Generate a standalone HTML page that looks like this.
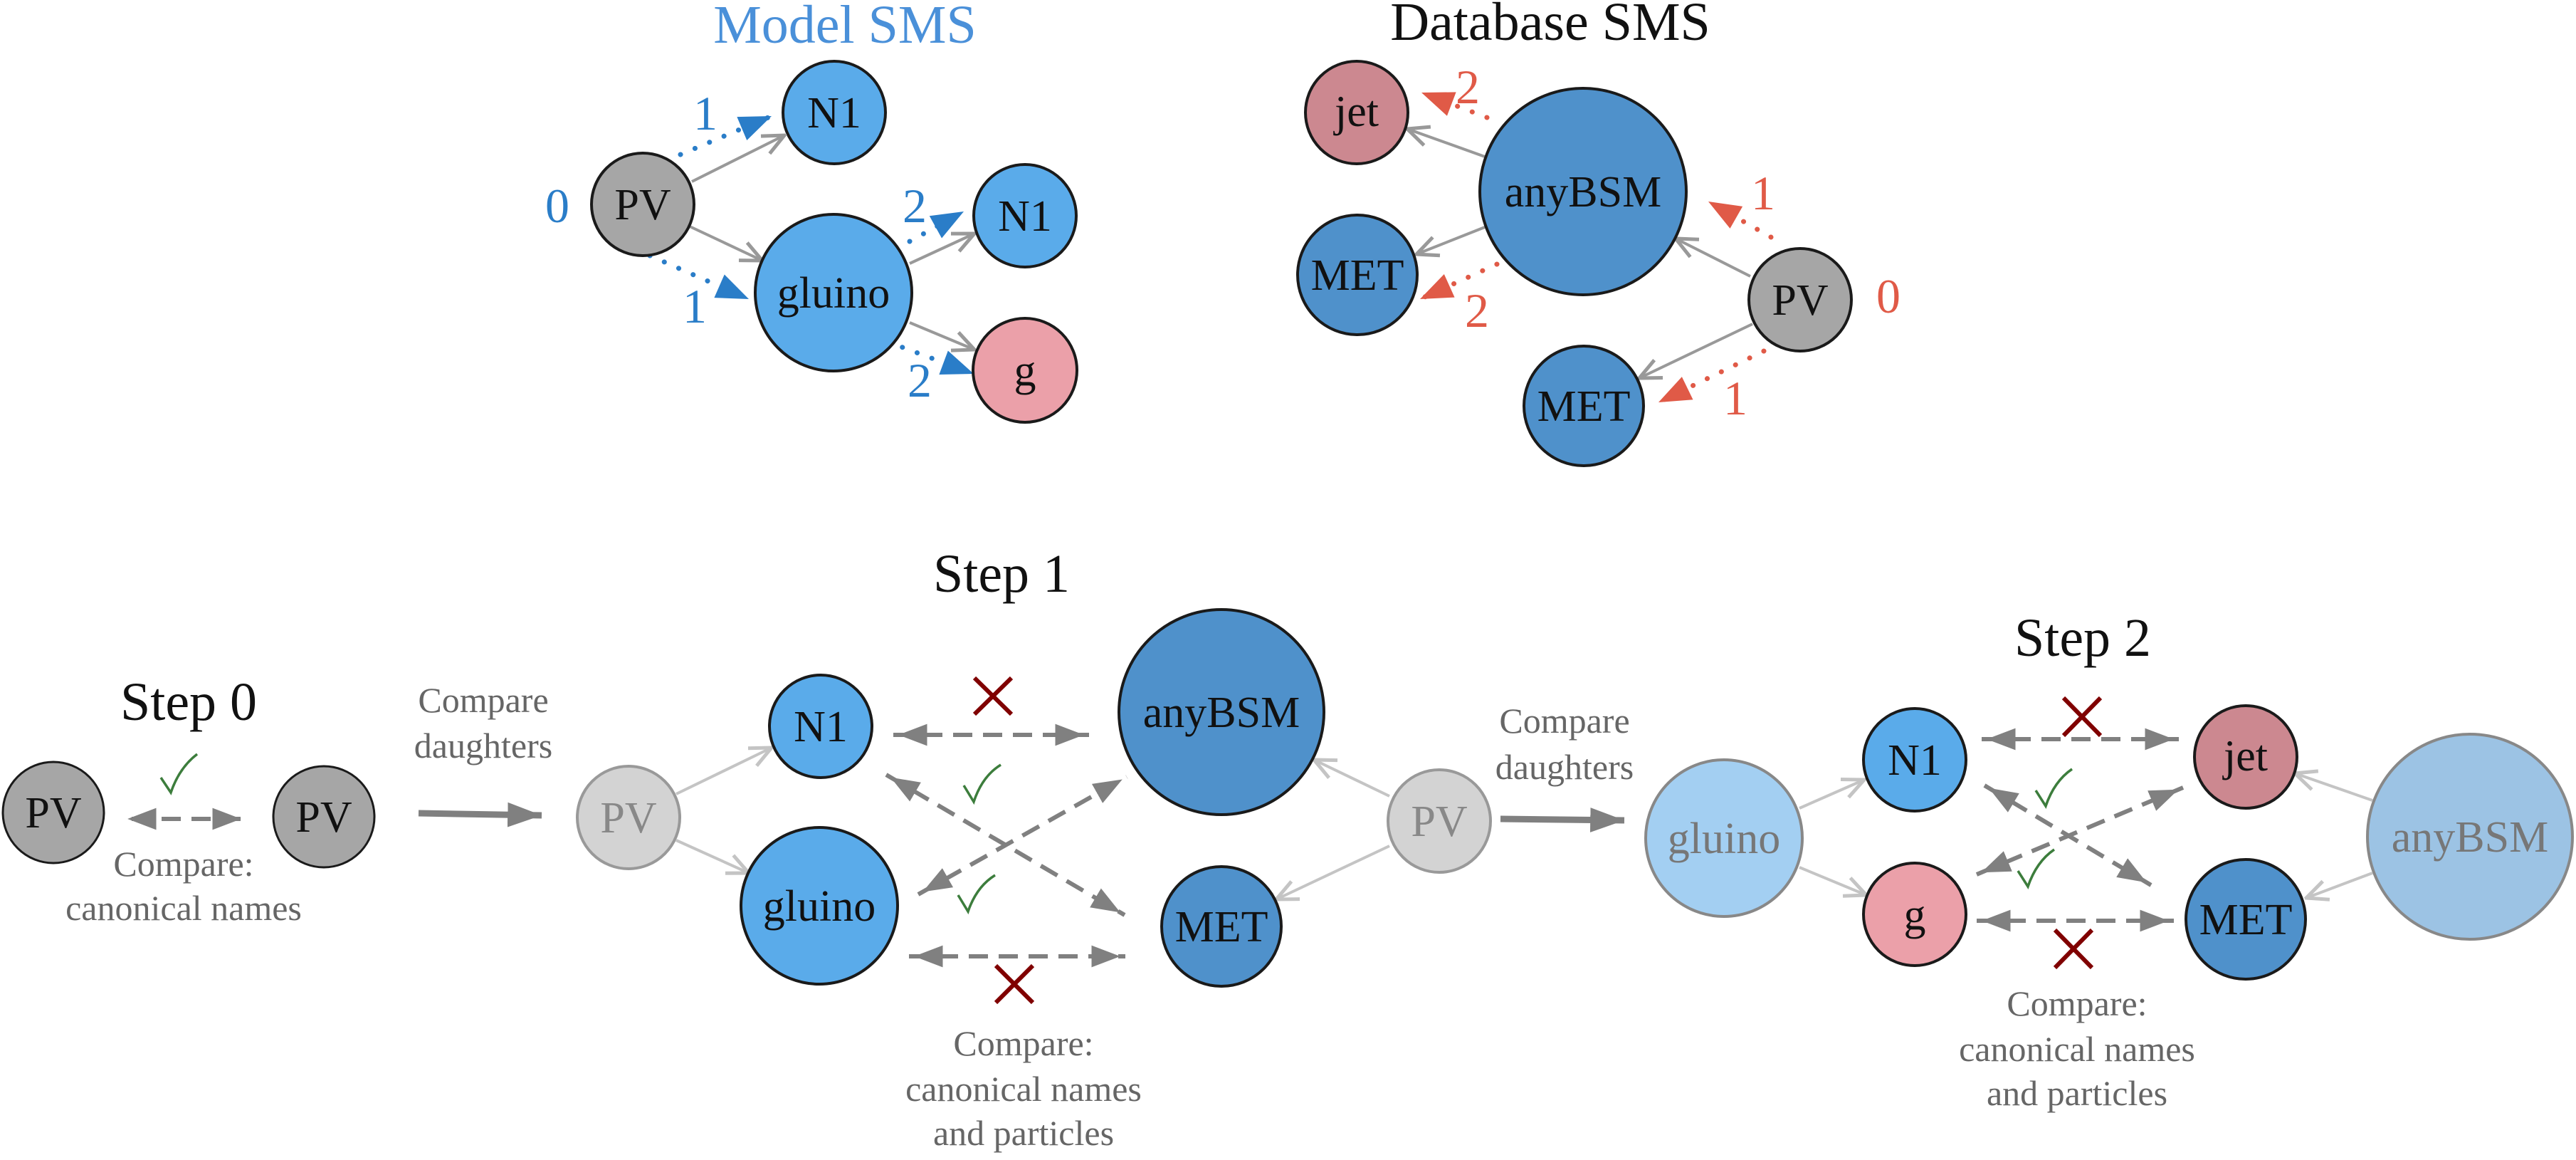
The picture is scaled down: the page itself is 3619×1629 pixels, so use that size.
<!DOCTYPE html>
<html><head><meta charset="utf-8"><style>
html,body{margin:0;padding:0;background:#fff;}
svg{display:block;}
svg text{font-family:"Liberation Serif","DejaVu Serif",serif !important;}
</style></head><body>
<svg width="3619" height="1629" viewBox="0 0 3619 1629" xmlns="http://www.w3.org/2000/svg" font-family="'Liberation Serif', 'DejaVu Serif', serif">
<defs>
<marker id="chev" markerUnits="userSpaceOnUse" markerWidth="40" markerHeight="40" viewBox="-30 -15 32 30" refX="0" refY="0" orient="auto">
<path d="M-24,-11 L0,0 L-24,11" fill="none" stroke="#999" stroke-width="4"/></marker>
<marker id="chevL" markerUnits="userSpaceOnUse" markerWidth="40" markerHeight="40" viewBox="-30 -15 32 30" refX="0" refY="0" orient="auto">
<path d="M-24,-11 L0,0 L-24,11" fill="none" stroke="#c4c4c4" stroke-width="4"/></marker>
<marker id="tri" markerUnits="userSpaceOnUse" markerWidth="50" markerHeight="40" viewBox="-40 -14 42 28" refX="0" refY="0" orient="auto-start-reverse">
<path d="M-40,-13 L-40,13 L-6,0 Z" fill="#808080"/></marker>
<marker id="tb" markerUnits="userSpaceOnUse" markerWidth="50" markerHeight="40" viewBox="-40 -16 42 32" refX="0" refY="0" orient="auto">
<path d="M-38,-15 L0,0 L-38,15 Z" fill="#2a7dc8"/></marker>
<marker id="tr" markerUnits="userSpaceOnUse" markerWidth="50" markerHeight="40" viewBox="-40 -16 42 32" refX="0" refY="0" orient="auto">
<path d="M-38,-15 L0,0 L-38,15 Z" fill="#e05a47"/></marker>
<marker id="big" markerUnits="userSpaceOnUse" markerWidth="50" markerHeight="40" viewBox="-44 -16 46 32" refX="0" refY="0" orient="auto">
<path d="M-44,-16 L0,0 L-44,16 Z" fill="#808080"/></marker>
</defs>

<!-- ===== Model SMS ===== -->
<text x="1187" y="60" font-size="76" fill="#4a90d9" text-anchor="middle">Model SMS</text>
<g stroke="#999" stroke-width="4" fill="none" marker-end="url(#chev)">
<line x1="972" y1="255" x2="1102" y2="190"/>
<line x1="969" y1="318" x2="1071" y2="366"/>
<line x1="1278" y1="370" x2="1369" y2="328"/>
<line x1="1278" y1="453" x2="1369" y2="491"/>
</g>
<g stroke="#2a7dc8" stroke-width="7" stroke-linecap="round" stroke-dasharray="0.1 22" fill="none" marker-end="url(#tb)">
<line x1="956" y1="217" x2="1084" y2="163"/>
<line x1="913" y1="359" x2="1052" y2="420"/>
<line x1="1278" y1="339" x2="1354" y2="297"/>
<line x1="1247" y1="480" x2="1368" y2="525"/>
</g>
<g stroke="#1a1a1a" stroke-width="4">
<circle cx="903" cy="287" r="72" fill="#a6a6a6"/>
<circle cx="1172" cy="158" r="72" fill="#5aabea"/>
<circle cx="1171" cy="411" r="110" fill="#5aabea"/>
<circle cx="1440" cy="303" r="72" fill="#5aabea"/>
<circle cx="1440" cy="520" r="73" fill="#eba0a9"/>
</g>
<g font-size="62" text-anchor="middle" fill="#111">
<text x="903" y="308">PV</text>
<text x="1172" y="179">N1</text>
<text x="1171" y="432">gluino</text>
<text x="1440" y="324">N1</text>
<text x="1440" y="541">g</text>
</g>
<g font-size="68" text-anchor="middle" fill="#2a7dc8">
<text x="783" y="312">0</text>
<text x="991" y="182">1</text>
<text x="976" y="453">1</text>
<text x="1285" y="312">2</text>
<text x="1292" y="557">2</text>
</g>

<!-- ===== Database SMS ===== -->
<text x="2178" y="56" font-size="76" fill="#111" text-anchor="middle">Database SMS</text>
<g stroke="#999" stroke-width="4" fill="none" marker-end="url(#chev)">
<line x1="2086" y1="220" x2="1977" y2="181"/>
<line x1="2086" y1="319" x2="1990" y2="357"/>
<line x1="2459" y1="388" x2="2354" y2="335"/>
<line x1="2462" y1="455" x2="2303" y2="531"/>
</g>
<g stroke="#e05a47" stroke-width="7" stroke-linecap="round" stroke-dasharray="0.1 22" fill="none" marker-end="url(#tr)">
<line x1="2089" y1="165" x2="1997" y2="130"/>
<line x1="2103" y1="371" x2="1995" y2="420"/>
<line x1="2488" y1="333" x2="2400" y2="283"/>
<line x1="2478" y1="493" x2="2330" y2="565"/>
</g>
<g stroke="#1a1a1a" stroke-width="4">
<circle cx="1906" cy="158" r="72" fill="#cc8890"/>
<circle cx="2224" cy="269" r="145" fill="#4f91cb"/>
<circle cx="1907" cy="386" r="84" fill="#4f91cb"/>
<circle cx="2529" cy="421" r="72" fill="#a6a6a6"/>
<circle cx="2225" cy="570" r="84" fill="#4f91cb"/>
</g>
<g font-size="62" text-anchor="middle" fill="#111">
<text x="1906" y="177">jet</text>
<text x="2224" y="290">anyBSM</text>
<text x="1907" y="407">MET</text>
<text x="2529" y="442">PV</text>
<text x="2225" y="591">MET</text>
</g>
<g font-size="68" text-anchor="middle" fill="#e05a47">
<text x="2653" y="439">0</text>
<text x="2477" y="294">1</text>
<text x="2062" y="145">2</text>
<text x="2075" y="459">2</text>
<text x="2438" y="582">1</text>
</g>

<!-- ===== Step 0 ===== -->
<text x="265" y="1011" font-size="76" fill="#111" text-anchor="middle">Step 0</text>
<circle cx="75" cy="1141" r="71" fill="#a6a6a6" stroke="#1a1a1a" stroke-width="3"/>
<circle cx="455" cy="1147" r="71" fill="#a6a6a6" stroke="#1a1a1a" stroke-width="3"/>
<g font-size="62" text-anchor="middle" fill="#111">
<text x="75" y="1162">PV</text>
<text x="455" y="1168">PV</text>
</g>
<line x1="172" y1="1150" x2="346" y2="1150" stroke="#808080" stroke-width="6" stroke-dasharray="27 15" stroke-dashoffset="-13" marker-start="url(#tri)" marker-end="url(#tri)"/>
<path d="M226,1092 L240,1113 Q252,1078 277,1059" fill="none" stroke="#3c7d3c" stroke-width="3.5"/>
<g font-size="50" fill="#666" text-anchor="middle">
<text x="258" y="1230">Compare:</text>
<text x="258" y="1292">canonical names</text>
<text x="679" y="1000">Compare</text>
<text x="679" y="1064">daughters</text>
</g>
<line x1="588" y1="1142" x2="761" y2="1145" stroke="#808080" stroke-width="9" marker-end="url(#big)"/>

<!-- ===== Step 1 ===== -->
<text x="1407" y="831" font-size="76" fill="#111" text-anchor="middle">Step 1</text>
<g stroke="#c4c4c4" stroke-width="4" fill="none" marker-end="url(#chevL)">
<line x1="950" y1="1115" x2="1084" y2="1050"/>
<line x1="950" y1="1180" x2="1052" y2="1226"/>
<line x1="1952" y1="1118" x2="1846" y2="1067"/>
<line x1="1952" y1="1188" x2="1793" y2="1263"/>
</g>
<circle cx="883" cy="1148" r="72" fill="#d3d3d3" stroke="#999" stroke-width="4"/>
<text x="883" y="1169" font-size="62" fill="#888" text-anchor="middle">PV</text>
<g stroke="#1a1a1a" stroke-width="4">
<circle cx="1153" cy="1020" r="72" fill="#5aabea"/>
<circle cx="1151" cy="1272" r="110" fill="#5aabea"/>
<circle cx="1716" cy="1000" r="144" fill="#4f91cb"/>
<circle cx="1716" cy="1301" r="84" fill="#4f91cb"/>
</g>
<g font-size="62" text-anchor="middle" fill="#111">
<text x="1153" y="1041">N1</text>
<text x="1151" y="1293">gluino</text>
<text x="1716" y="1021">anyBSM</text>
<text x="1716" y="1322">MET</text>
</g>
<g stroke="#808080" stroke-width="6" stroke-dasharray="27 15" fill="none" marker-start="url(#tri)" marker-end="url(#tri)">
<line x1="1255" y1="1032" x2="1530" y2="1032"/>
<line x1="1277" y1="1343" x2="1581" y2="1343"/>
<line x1="1245" y1="1088" x2="1580" y2="1285"/>
<line x1="1290" y1="1256" x2="1583" y2="1091"/>
</g>
<g stroke="#800000" stroke-width="6">
<line x1="1369" y1="952" x2="1421" y2="1003"/><line x1="1421" y1="952" x2="1369" y2="1003"/>
<line x1="1399" y1="1356" x2="1451" y2="1408"/><line x1="1451" y1="1356" x2="1399" y2="1408"/>
</g>
<g fill="none" stroke="#3c7d3c" stroke-width="3.5">
<path d="M1354,1103 L1368,1126 Q1380,1090 1406,1074"/>
<path d="M1346,1257 L1360,1280 Q1372,1245 1398,1229"/>
</g>
<g font-size="50" fill="#666" text-anchor="middle">
<text x="1438" y="1482">Compare:</text>
<text x="1438" y="1546">canonical names</text>
<text x="1438" y="1608">and particles</text>
<text x="2198" y="1029">Compare</text>
<text x="2198" y="1094">daughters</text>
</g>
<circle cx="2022" cy="1153" r="72" fill="#d3d3d3" stroke="#999" stroke-width="4"/>
<text x="2022" y="1174" font-size="62" fill="#888" text-anchor="middle">PV</text>
<line x1="2108" y1="1150" x2="2282" y2="1152" stroke="#808080" stroke-width="9" marker-end="url(#big)"/>

<!-- ===== Step 2 ===== -->
<text x="2926" y="921" font-size="76" fill="#111" text-anchor="middle">Step 2</text>
<g stroke="#c4c4c4" stroke-width="4" fill="none" marker-end="url(#chevL)">
<line x1="2528" y1="1135" x2="2619" y2="1095"/>
<line x1="2528" y1="1218" x2="2622" y2="1257"/>
<line x1="3333" y1="1124" x2="3224" y2="1086"/>
<line x1="3333" y1="1226" x2="3240" y2="1261"/>
</g>
<circle cx="2422" cy="1177" r="110" fill="#a3cff2" stroke="#888" stroke-width="4"/>
<text x="2422" y="1198" font-size="62" fill="#777" text-anchor="middle">gluino</text>
<circle cx="3470" cy="1175" r="144" fill="#9cc3e4" stroke="#888" stroke-width="4"/>
<text x="3470" y="1196" font-size="62" fill="#777" text-anchor="middle">anyBSM</text>
<g stroke="#1a1a1a" stroke-width="4">
<circle cx="2690" cy="1067" r="72" fill="#5aabea"/>
<circle cx="2690" cy="1284" r="72" fill="#eba0a9"/>
<circle cx="3155" cy="1063" r="72" fill="#cc8890"/>
<circle cx="3155" cy="1291" r="84" fill="#4f91cb"/>
</g>
<g font-size="62" text-anchor="middle" fill="#111">
<text x="2690" y="1088">N1</text>
<text x="2690" y="1305">g</text>
<text x="3155" y="1082">jet</text>
<text x="3155" y="1312">MET</text>
</g>
<g stroke="#808080" stroke-width="6" stroke-dasharray="27 15" fill="none" marker-start="url(#tri)" marker-end="url(#tri)">
<line x1="2784" y1="1038" x2="3061" y2="1038"/>
<line x1="2777" y1="1293" x2="3054" y2="1293"/>
<line x1="2788" y1="1103" x2="3022" y2="1243"/>
<line x1="2777" y1="1228" x2="3067" y2="1106"/>
</g>
<g stroke="#800000" stroke-width="6">
<line x1="2899" y1="980" x2="2951" y2="1033"/><line x1="2951" y1="980" x2="2899" y2="1033"/>
<line x1="2887" y1="1306" x2="2939" y2="1359"/><line x1="2939" y1="1306" x2="2887" y2="1359"/>
</g>
<g fill="none" stroke="#3c7d3c" stroke-width="3.5">
<path d="M2860,1110 L2874,1132 Q2886,1097 2911,1080"/>
<path d="M2835,1223 L2849,1245 Q2861,1210 2886,1193"/>
</g>
<g font-size="50" fill="#666" text-anchor="middle">
<text x="2918" y="1426">Compare:</text>
<text x="2918" y="1490">canonical names</text>
<text x="2918" y="1552">and particles</text>
</g>
</svg>
</body></html>
